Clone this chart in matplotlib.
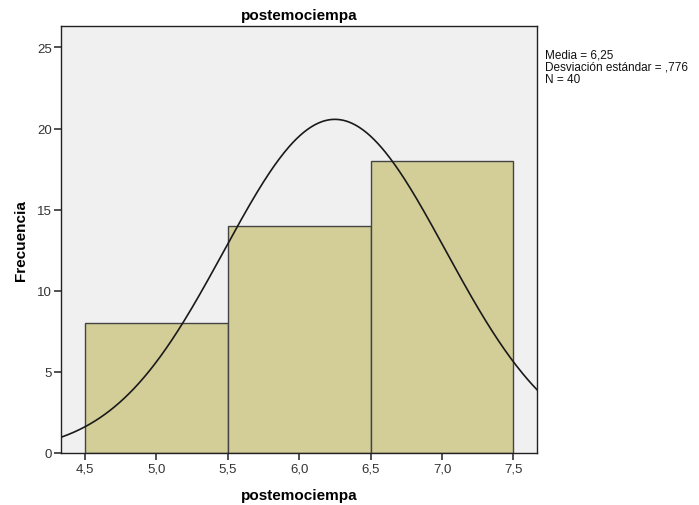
import numpy as np
import matplotlib
matplotlib.use("Agg")
import matplotlib.pyplot as plt

plt.rcParams['font.family'] = ['Liberation Sans', 'DejaVu Sans']

# ----- DATA -----
bin_edges = [4.5, 5.5, 6.5, 7.5]
counts = [8, 14, 18]
mean = 6.25
sd = 0.776
n = 40
xticks = [4.5, 5.0, 5.5, 6.0, 6.5, 7.0, 7.5]
xtick_labels = ["4,5", "5,0", "5,5", "6,0", "6,5", "7,0", "7,5"]
yticks = [0, 5, 10, 15, 20, 25]

fig = plt.figure(figsize=(6.99, 5.06), dpi=100)
ax = fig.add_axes([0.0877, 0.1028, 0.6803, 0.8442])
ax.set_facecolor('#F0F0F0')

widths = np.diff(bin_edges)
ax.bar(bin_edges[:-1], counts, width=widths, align='edge',
       color='#D3CE98', edgecolor='#444444', linewidth=1.0, zorder=2)

# normal curve scaled to counts
xs = np.linspace(4.3, 7.7, 400)
bw = widths[0]
ys = n * bw / (sd * np.sqrt(2 * np.pi)) * np.exp(-0.5 * ((xs - mean) / sd) ** 2)
ax.plot(xs, ys, color='#1a1a1a', linewidth=1.2, zorder=3)

ax.set_xlim(4.334, 7.664)
ax.set_ylim(0, 26.33)
ax.set_xticks(xticks)
ax.set_xticklabels(xtick_labels)
ax.set_yticks(yticks)
ax.tick_params(axis='both', labelsize=9.5, colors='#333333', length=5, width=1.2,
               direction='out', pad=1.5)
for s in ax.spines.values():
    s.set_color('#222222')
    s.set_linewidth(1.0)

ax.set_title("postemociempa", fontsize=11, fontweight='bold', pad=5)
ax.set_xlabel("postemociempa", fontsize=11, fontweight='bold', labelpad=10)
ax.set_ylabel("Frecuencia", fontsize=11, fontweight='bold', labelpad=7)

fig.text(0.780, 0.903, "Media = 6,25\nDesviación estándar = ,776\nN = 40",
         fontsize=8.5, va='top', ha='left', linespacing=1.05, color='#111111')

fig.savefig("out.png", dpi=100)
